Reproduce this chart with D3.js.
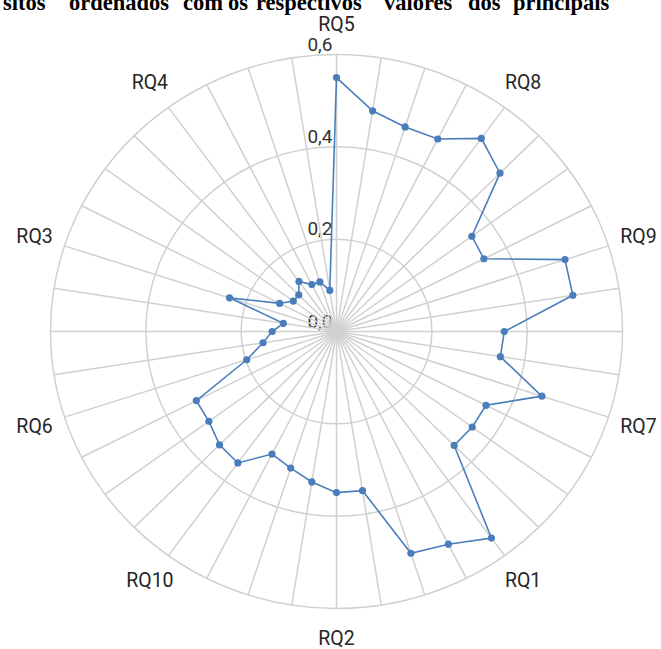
<!DOCTYPE html>
<html>
<head>
<meta charset="utf-8">
<script src="https://cdn.jsdelivr.net/npm/d3@7"></script>
<style>
  html, body { margin: 0; padding: 0; background: #fff; }
  svg { display: block; }
</style>
</head>
<body>
<svg id="chart" width="661" height="649"></svg>
<script>
// ---- data ----
const titleWords = ["sitos", "ordenados", "com", "os", "respectivos", "valores", "dos", "principais"];
const categories = [
  "RQ5", "", "", "", "RQ8", "", "", "", "RQ9", "", "", "",
  "RQ7", "", "", "", "RQ1", "", "", "", "RQ2", "", "", "",
  "RQ10", "", "", "", "RQ6", "", "", "", "RQ3", "", "", "",
  "RQ4", "", "", ""
];
const values = [
  0.550, 0.484, 0.466, 0.468, 0.517, 0.485, 0.351, 0.347, 0.504, 0.502,
  0.352, 0.348, 0.453, 0.352, 0.352, 0.349, 0.553, 0.517, 0.505, 0.349,
  0.349, 0.330, 0.311, 0.298, 0.352, 0.347, 0.331, 0.330, 0.198, 0.156,
  0.135, 0.113, 0.236, 0.134, 0.112, 0.112, 0.134, 0.114, 0.113, 0.090
];
const tickValues = [0, 0.2, 0.4, 0.6];
const tickLabels = ["0,0", "0,2", "0,4", "0,6"];

// ---- layout ----
const svg = d3.select("#chart");
const cx = 336.5, cy = 331.5, Rx = 286, Ry = 277;
const rScale = d3.scaleLinear().domain([0, 0.6]).range([0, 1]);
const aScale = d3.scaleLinear().domain([0, categories.length]).range([0, 2 * Math.PI]);
const px = (i, v) => cx + Rx * rScale(v) * Math.sin(aScale(i));
const py = (i, v) => cy - Ry * rScale(v) * Math.cos(aScale(i));

// title (cropped at top, justified words)
const titleX = [3, 69, 183, 228, 256, 384, 468, 513];
svg.append("g").selectAll("text").data(titleWords).join("text")
  .attr("x", (d, i) => titleX[i]).attr("y", 9.5)
  .attr("font-family", "'Liberation Serif', 'Times New Roman', serif")
  .attr("font-weight", "bold").attr("font-size", 22.5).attr("fill", "#000")
  .text(d => d);

// tick labels
svg.append("g").selectAll("text").data(tickValues).join("text")
  .attr("x", cx - 4)
  .attr("y", d => cy - Ry * rScale(d) - 4)
  .attr("text-anchor", "end")
  .attr("font-family", "Roboto, sans-serif").attr("font-size", 19)
  .attr("fill", "#333")
  .text((d, i) => tickLabels[i]);

// grid rings
const grid = svg.append("g").attr("fill", "none").attr("stroke", "#d0d0d0").attr("stroke-width", 1.5);
grid.selectAll("ellipse").data(tickValues.filter(d => d > 0)).join("ellipse")
  .attr("cx", cx).attr("cy", cy)
  .attr("rx", d => Rx * rScale(d)).attr("ry", d => Ry * rScale(d));
// spokes
grid.selectAll("line").data(categories).join("line")
  .attr("x1", cx).attr("y1", cy)
  .attr("x2", (d, i) => px(i, 0.6)).attr("y2", (d, i) => py(i, 0.6));

// category labels
svg.append("g").selectAll("text").data(categories.map((c, i) => ({c, i})).filter(d => d.c !== "")).join("text")
  .attr("x", d => cx + Rx * 1.11 * Math.sin(aScale(d.i)))
  .attr("y", d => cy - Ry * 1.11 * Math.cos(aScale(d.i)))
  .attr("text-anchor", "middle").attr("dominant-baseline", "central")
  .attr("font-family", "Roboto, sans-serif").attr("font-size", 19.5)
  .attr("fill", "#262626")
  .text(d => d.c);

// series
const line = d3.line().x((d, i) => px(i, d)).y((d, i) => py(i, d)).curve(d3.curveLinearClosed);
svg.append("path").datum(values)
  .attr("d", line).attr("fill", "none").attr("stroke", "#4a7ebb").attr("stroke-width", 1.6);
svg.append("g").selectAll("circle").data(values).join("circle")
  .attr("cx", (d, i) => px(i, d)).attr("cy", (d, i) => py(i, d))
  .attr("r", 3.6).attr("fill", "#4a7ebb");
</script>
</body>
</html>
